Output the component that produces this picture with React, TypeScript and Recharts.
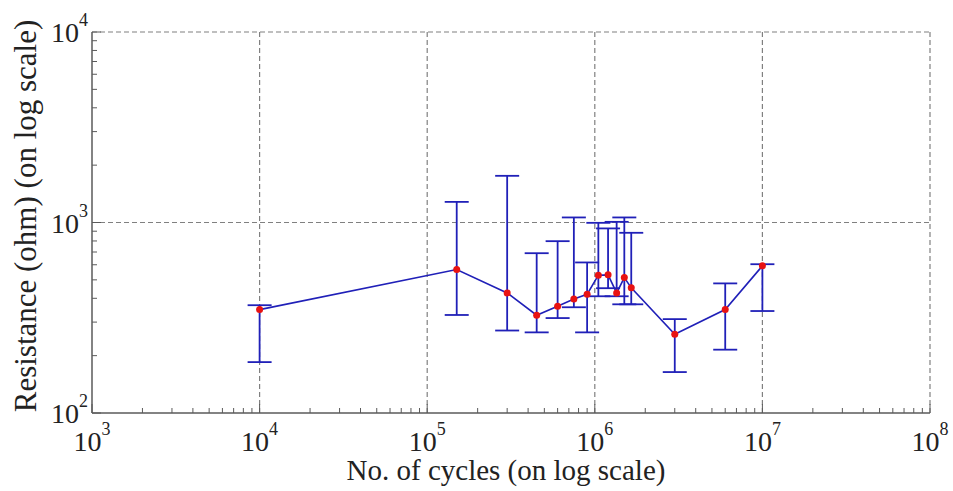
import { ComposedChart, Line, XAxis, YAxis, ReferenceLine, ErrorBar, Label } from 'recharts';

// values (log-log)
const cycles = [1e4, 1.5e5, 3e5, 4.5e5, 6e5, 7.5e5, 9e5, 1.05e6, 1.2e6, 1.35e6, 1.5e6, 1.65e6, 3e6, 6e6, 1e7];
const resistance = [349, 566, 427, 326, 363, 397, 420, 529, 531, 427, 514, 454, 259, 349, 592];
const upper = [368, 1283, 1758, 690, 798, 1063, 617, 996, 931, 1008, 1063, 883, 311, 479, 604];
const lower = [185, 327, 271, 265, 315, 359, 265, 410, 452, 410, 372, 372, 164, 215, 343];

const xDecades = [1e3, 1e4, 1e5, 1e6, 1e7, 1e8];
const yDecades = [1e2, 1e3, 1e4];

const BLUE = '#2020b8';
const RED = '#e81212';
const AXIS = '#5a5a5a';
const GRID = '#808080';
const SERIF = 'Liberation Serif, Times New Roman, serif';

// ticks at 1..9 of every decade, used for the small inward marks
const minorTicks = (decades: number[]) => {
  const out: number[] = [];
  decades.slice(0, -1).forEach(d => {
    for (let m = 1; m < 10; m++) out.push(d * m);
  });
  out.push(decades[decades.length - 1]);
  return out;
};

const isDecade = (v: number) => Math.abs(Math.log10(v) - Math.round(Math.log10(v))) < 1e-9;
const exponent = (v: number) => Math.round(Math.log10(v));

const data = cycles.map((c, i) => ({
  cycles: c,
  resistance: resistance[i],
  err: [resistance[i] - lower[i], upper[i] - resistance[i]],
}));

const XTick = ({ x, y, payload }: any) => {
  const major = isDecade(payload.value);
  return (
    <g>
      <line x1={x} y1={y} x2={x} y2={y - (major ? 9 : 5)} stroke={AXIS} strokeWidth={1} />
      {major && (
        <text x={x} y={y + 38} textAnchor="middle" fontFamily={SERIF} fontSize={28} fill="#222">
          10<tspan dy={-16} fontSize={18}>{exponent(payload.value)}</tspan>
        </text>
      )}
    </g>
  );
};

const YTick = ({ x, y, payload }: any) => {
  const major = isDecade(payload.value);
  return (
    <g>
      <line x1={x} y1={y} x2={x + (major ? 9 : 5)} y2={y} stroke={AXIS} strokeWidth={1} />
      {major && (
        <text x={x - 4} y={y + 10} textAnchor="end" fontFamily={SERIF} fontSize={28} fill="#222">
          10<tspan dy={-16} fontSize={18}>{exponent(payload.value)}</tspan>
        </text>
      )}
    </g>
  );
};

export default function App() {
  return (
    <div style={{ position: 'absolute', left: 0, top: 0, background: '#fff' }}>
      <ComposedChart width={953} height={491} data={data} margin={{ top: 32, right: 23, bottom: 28, left: 32 }}>
        <XAxis
          dataKey="cycles"
          type="number"
          scale="log"
          domain={[1e3, 1e8]}
          ticks={minorTicks(xDecades)}
          interval={0}
          tickSize={0}
          tickMargin={0}
          tickLine={false}
          tick={<XTick />}
          height={50}
          axisLine={{ stroke: AXIS, strokeWidth: 1.5 }}
        >
          <Label
            content={() => (
              <text x={506} y={480} textAnchor="middle" fontFamily={SERIF} fontSize={29} fill="#222">
                No. of cycles (on log scale)
              </text>
            )}
          />
        </XAxis>
        <YAxis
          type="number"
          scale="log"
          domain={[1e2, 1e4]}
          ticks={minorTicks(yDecades)}
          interval={0}
          tickSize={0}
          tickMargin={0}
          tickLine={false}
          tick={<YTick />}
          width={60}
          axisLine={{ stroke: AXIS, strokeWidth: 1.5 }}
        >
          <Label
            content={() => (
              <text
                x={36}
                y={216}
                transform="rotate(-90 36 216)"
                textAnchor="middle"
                fontFamily={SERIF}
                fontSize={31}
                fill="#222"
              >
                Resistance (ohm) (on log scale)
              </text>
            )}
          />
        </YAxis>
        {xDecades.slice(1).map(v => (
          <ReferenceLine key={'x' + v} x={v} stroke={GRID} strokeWidth={1.2} strokeDasharray="5 3" />
        ))}
        {yDecades.slice(1).map(v => (
          <ReferenceLine key={'y' + v} y={v} stroke={GRID} strokeWidth={1.2} strokeDasharray="5 3" />
        ))}
        <Line
          dataKey="resistance"
          type="linear"
          stroke={BLUE}
          strokeWidth={1.6}
          dot={{ r: 3.5, fill: RED, stroke: 'none' }}
          activeDot={false}
          isAnimationActive={false}
        >
          <ErrorBar dataKey="err" direction="y" width={12} stroke={BLUE} strokeWidth={1.8} />
        </Line>
      </ComposedChart>
    </div>
  );
}
